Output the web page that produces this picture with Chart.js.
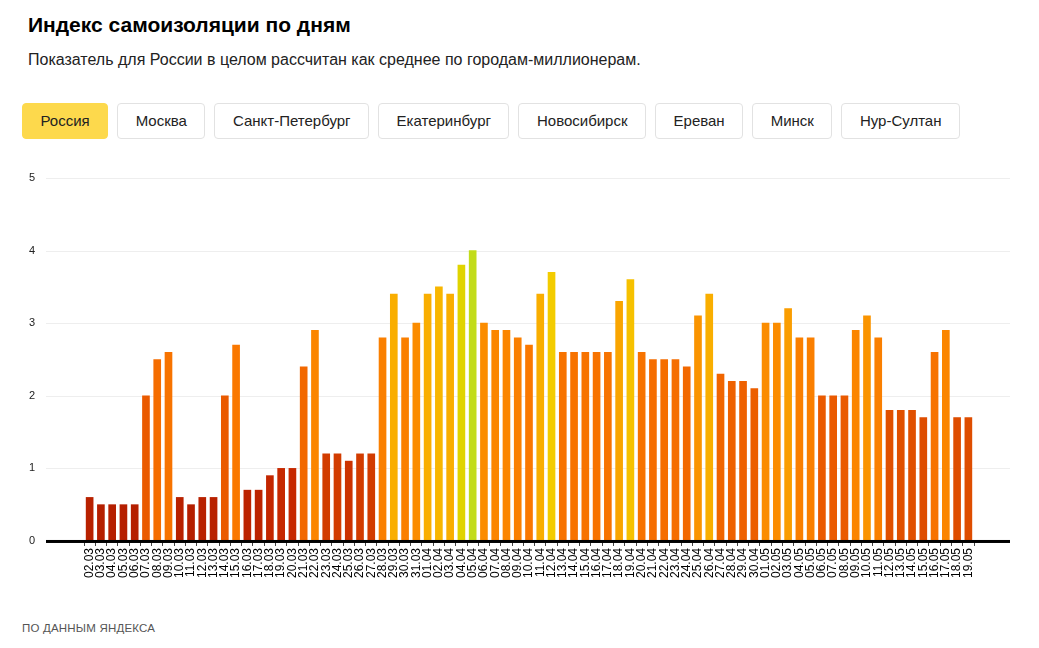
<!DOCTYPE html>
<html lang="ru">
<head>
<meta charset="utf-8">
<title>Индекс самоизоляции по дням</title>
<script src="https://cdn.jsdelivr.net/npm/chart.js@4.4.1/dist/chart.umd.min.js"></script>
<style>
  html, body { margin: 0; padding: 0; background: #fff; }
  body { width: 1039px; height: 648px; position: relative; overflow: hidden; font-family: "Liberation Sans", Arial, sans-serif; color: #000; }
  h1 { position: absolute; left: 28px; top: 13px; margin: 0; font-size: 21px; font-weight: bold; }
  .sub { position: absolute; left: 28px; top: 51px; margin: 0; font-size: 16px; color: #222; }
  .tabs { position: absolute; left: 22px; top: 103px; display: flex; gap: 9px; }
  .tabs span { height: 34px; line-height: 34px; padding: 0 17.5px; border: 1px solid #e2e2e2; border-radius: 4px; font-size: 15px; color: #222; background: #fff; }
  .tabs span.on { background: #fdd94c; border-color: #fdd94c; }
  .src { position: absolute; left: 22px; top: 622px; font-size: 11.5px; color: #555; letter-spacing: 0.2px; }
  #wrap { position: absolute; left: 0; top: 150px; width: 1039px; height: 430px; }
</style>
</head>
<body>
<h1>Индекс самоизоляции по дням</h1>
<p class="sub">Показатель для России в целом рассчитан как среднее по городам-миллионерам.</p>
<div class="tabs">
  <span class="on">Россия</span><span>Москва</span><span>Санкт-Петербург</span><span>Екатеринбург</span><span>Новосибирск</span><span>Ереван</span><span>Минск</span><span>Нур-Султан</span>
</div>
<div id="wrap"><canvas id="myChart"></canvas></div>
<div class="src">ПО ДАННЫМ ЯНДЕКСА</div>
<script>
const days = [
  '02.03','03.03','04.03','05.03','06.03','07.03','08.03','09.03','10.03','11.03',
  '12.03','13.03','14.03','15.03','16.03','17.03','18.03','19.03','20.03','21.03',
  '22.03','23.03','24.03','25.03','26.03','27.03','28.03','29.03','30.03','31.03',
  '01.04','02.04','03.04','04.04','05.04','06.04','07.04','08.04','09.04','10.04',
  '11.04','12.04','13.04','14.04','15.04','16.04','17.04','18.04','19.04','20.04',
  '21.04','22.04','23.04','24.04','25.04','26.04','27.04','28.04','29.04','30.04',
  '01.05','02.05','03.05','04.05','05.05','06.05','07.05','08.05','09.05','10.05',
  '11.05','12.05','13.05','14.05','15.05','16.05','17.05','18.05','19.05'
];
const russia = [
  0.6, 0.5, 0.5, 0.5, 0.5, 2.0, 2.5, 2.6, 0.6, 0.5,
  0.6, 0.6, 2.0, 2.7, 0.7, 0.7, 0.9, 1.0, 1.0, 2.4,
  2.9, 1.2, 1.2, 1.1, 1.2, 1.2, 2.8, 3.4, 2.8, 3.0,
  3.4, 3.5, 3.4, 3.8, 4.0, 3.0, 2.9, 2.9, 2.8, 2.7,
  3.4, 3.7, 2.6, 2.6, 2.6, 2.6, 2.6, 3.3, 3.6, 2.6,
  2.5, 2.5, 2.5, 2.4, 3.1, 3.4, 2.3, 2.2, 2.2, 2.1,
  3.0, 3.0, 3.2, 2.8, 2.8, 2.0, 2.0, 2.0, 2.9, 3.1,
  2.8, 1.8, 1.8, 1.8, 1.7, 2.6, 2.9, 1.7, 1.7
];
const yTicks = [0, 1, 2, 3, 4, 5];

// colour scale: value -> colour
const stops = [
  [0.5, [181, 31, 0]], [1.0, [198, 40, 0]], [1.2, [210, 60, 0]], [1.8, [224, 80, 0]],
  [2.0, [234, 90, 0]], [2.4, [242, 104, 0]], [2.7, [250, 120, 0]], [3.0, [251, 140, 0]],
  [3.3, [249, 165, 0]], [3.5, [248, 182, 0]], [3.7, [243, 204, 0]], [3.85, [214, 216, 0]], [4.0, [194, 220, 26]]
];
function colorFor(v) {
  if (v <= stops[0][0]) return 'rgb(' + stops[0][1].join(',') + ')';
  for (let i = 1; i < stops.length; i++) {
    if (v <= stops[i][0]) {
      const a = stops[i - 1], b = stops[i];
      const t = (v - a[0]) / (b[0] - a[0]);
      const c = a[1].map((x, k) => Math.round(x + (b[1][k] - x) * t));
      return 'rgb(' + c.join(',') + ')';
    }
  }
  return 'rgb(' + stops[stops.length - 1][1].join(',') + ')';
}

// grid lines and baseline wider than the bar area
const wideGrid = {
  id: 'wideGrid',
  beforeDatasetsDraw(chart) {
    const { ctx, scales: { y } } = chart;
    const x0 = 46, x1 = 1010;
    ctx.save();
    y.ticks.forEach(t => {
      if (t.value === 0) return;
      const py = Math.round(y.getPixelForValue(t.value)) + 0.5;
      ctx.strokeStyle = '#eeeeee';
      ctx.lineWidth = 1;
      ctx.beginPath(); ctx.moveTo(x0, py); ctx.lineTo(x1, py); ctx.stroke();
    });
    ctx.restore();
  },
  afterDatasetsDraw(chart) {
    const { ctx, scales: { y } } = chart;
    const py = y.getPixelForValue(0);
    ctx.save();
    ctx.fillStyle = '#000';
    ctx.fillRect(46, py - 1, 1010 - 46, 3);
    ctx.restore();
  }
};

const ctx = document.getElementById('myChart');
const chart = new Chart(ctx, {
  type: 'bar',
  data: {
    labels: days,
    datasets: [{
      data: russia,
      backgroundColor: russia.map(colorFor),
      barThickness: 7
    }]
  },
  options: {
    responsive: true,
    maintainAspectRatio: false,
    animation: false,
    layout: { padding: { left: 29, right: 65, top: 28, bottom: 0 } },
    plugins: { legend: { display: false }, tooltip: { enabled: false } },
    scales: {
      x: {
        border: { display: false },
        grid: { display: true, drawOnChartArea: false, drawTicks: true, tickLength: 5, color: '#444' },
        ticks: {
          autoSkip: false, minRotation: 90, maxRotation: 90, padding: 2,
          color: '#000', font: { family: 'Liberation Sans, Arial, sans-serif', size: 12 }
        }
      },
      y: {
        min: 0, max: 5,
        afterFit(scale) { scale.width = 55; },
        afterBuildTicks(scale) { scale.ticks = yTicks.map(v => ({ value: v })); },
        border: { display: false },
        grid: { display: false },
        ticks: {
          crossAlign: 'far',
          color: '#222', font: { family: 'Liberation Sans, Arial, sans-serif', size: 11 }
        }
      }
    }
  },
  plugins: [wideGrid]
});
</script>
</body>
</html>
